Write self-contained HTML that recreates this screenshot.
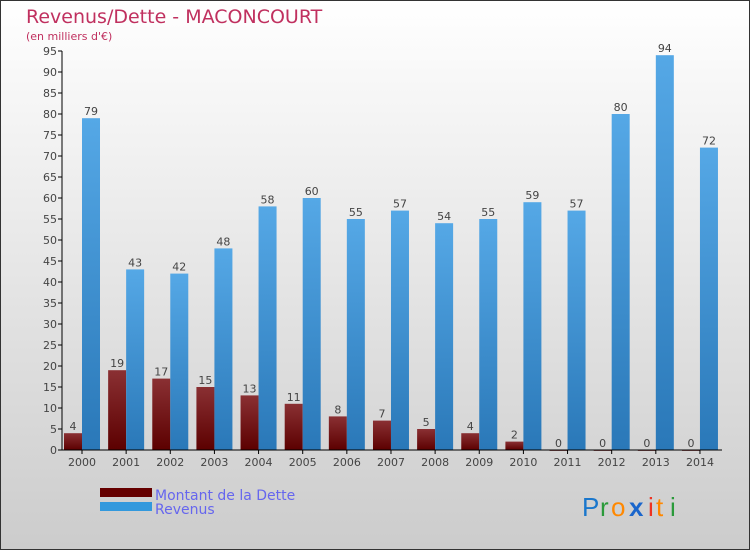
<!DOCTYPE html>
<html><head><meta charset="utf-8"><style>
body{margin:0}
#c{width:750px;height:550px;position:relative;font-family:"DejaVu Sans","Liberation Sans",sans-serif}
</style></head><body>
<div id="c">
<svg id="s" width="750" height="550" xmlns="http://www.w3.org/2000/svg">
<defs>
<linearGradient id="bg" x1="0" y1="0" x2="0" y2="1"><stop offset="0" stop-color="#ffffff"/><stop offset="1" stop-color="#cccccc"/></linearGradient>
<linearGradient id="gd" x1="0" y1="0" x2="0" y2="1"><stop offset="0" stop-color="#8a3033"/><stop offset="1" stop-color="#5c0000"/></linearGradient>
<linearGradient id="gr" x1="0" y1="0" x2="0" y2="1"><stop offset="0" stop-color="#55a8e6"/><stop offset="1" stop-color="#2a78b8"/></linearGradient>
</defs>
<rect x="0.5" y="0.5" width="749" height="549" fill="url(#bg)" stroke="#333"/>
<text x="26" y="23" font-size="19" fill="#c0305f">Revenus/Dette - MACONCOURT</text>
<text x="26" y="40" font-size="11" fill="#c0305f">(en milliers d'€)</text>
<g id="plot"></g>
<rect x="100" y="488" width="52" height="9" fill="#660000"/>
<rect x="100" y="502" width="52" height="9" fill="#3399dd"/>
<text x="155" y="500" font-size="14" fill="#6666ee">Montant de la Dette</text>
<text x="155" y="514" font-size="14" fill="#6666ee">Revenus</text>
<g font-size="26" font-family="Liberation Sans,sans-serif">
<text x="582" y="516" fill="#1a77cc">P</text><text x="600" y="516" fill="#2a9a3a">r</text><text x="611" y="516" fill="#ff8800">o</text><text x="629" y="516" fill="#1a66cc" font-weight="bold">x</text><text x="648" y="516" fill="#ee3322">i</text><text x="656" y="516" fill="#ff8800">t</text><text x="670" y="516" fill="#2a9a3a">i</text>
</g>
</svg>
</div>
<script>
const years=["2000","2001","2002","2003","2004","2005","2006","2007","2008","2009","2010","2011","2012","2013","2014"];
const dette=[4,19,17,15,13,11,8,7,5,4,2,0,0,0,0];
const revenus=[79,43,42,48,58,60,55,57,54,55,59,57,80,94,72];
const yTicks=[0,5,10,15,20,25,30,35,40,45,50,55,60,65,70,75,80,85,90,95];
const NS="http://www.w3.org/2000/svg";
const g=document.getElementById('plot');
const y0=450,yk=(450-51)/95,x0=62,step=44.14;
const Y=v=>y0-v*yk, X=i=>x0+2+i*step;
function el(t,a,txt){const e=document.createElementNS(NS,t);for(const k in a)e.setAttribute(k,a[k]);if(txt!==undefined)e.textContent=txt;g.appendChild(e);return e;}
yTicks.forEach(v=>{
 const t=el('line',{x1:x0-4,x2:x0,y1:Y(v),y2:Y(v),stroke:'#000'});
 
 
 const l=el('text',{x:x0-5,y:Y(v)+4,'font-size':11,'text-anchor':'end',fill:'#444'},v);
 
 
});
years.forEach((yr,i)=>{
 const bx=X(i);
 const d=el('rect',{x:bx,y:Y(dette[i]),width:18,height:Math.max(dette[i]*yk,0.8),fill:'url(#gd)'});
 
 
 const r=el('rect',{x:bx+18,y:Y(revenus[i]),width:18,height:revenus[i]*yk,fill:'url(#gr)'});
 
 
 const dl=el('text',{x:bx+9,y:Y(dette[i])-3,'font-size':11,'text-anchor':'middle',fill:'#444'},dette[i]);
 
 
 const rl=el('text',{x:bx+27,y:Y(revenus[i])-3,'font-size':11,'text-anchor':'middle',fill:'#444'},revenus[i]);
 
 
 const tk=el('line',{x1:bx+18,x2:bx+18,y1:y0,y2:y0+4,stroke:'#000'});
 
 
 const xl=el('text',{x:bx+18,y:y0+16,'font-size':11,'text-anchor':'middle',fill:'#444'},yr);
 
 
});
const ya=el('line',{x1:x0,x2:x0,y1:Y(95),y2:y0,stroke:'#000'});


const xa=el('line',{x1:x0,x2:722,y1:y0,y2:y0,stroke:'#000'});


</script>
</body></html>
